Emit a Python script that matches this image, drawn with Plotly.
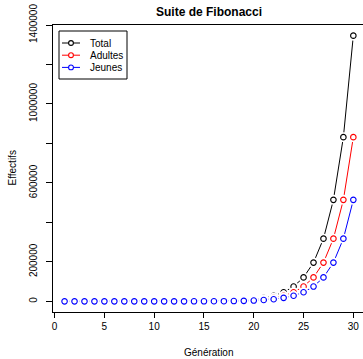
import plotly.graph_objects as go

generation = list(range(1, 31))
total = [1, 2, 3, 5, 8, 13, 21, 34, 55, 89, 144, 233, 377, 610, 987, 1597, 2584,
         4181, 6765, 10946, 17711, 28657, 46368, 75025, 121393, 196418, 317811,
         514229, 832040, 1346269]
adultes = [1, 1, 2, 3, 5, 8, 13, 21, 34, 55, 89, 144, 233, 377, 610, 987, 1597,
           2584, 4181, 6765, 10946, 17711, 28657, 46368, 75025, 121393, 196418,
           317811, 514229, 832040]
jeunes = [0, 1, 1, 2, 3, 5, 8, 13, 21, 34, 55, 89, 144, 233, 377, 610, 987,
          1597, 2584, 4181, 6765, 10946, 17711, 28657, 46368, 75025, 121393,
          196418, 317811, 514229]

series_names = ["Total", "Adultes", "Jeunes"]
series_values = [total, adultes, jeunes]
series_colors = ["#000000", "#FF0000", "#0000FF"]
xticks = [0, 5, 10, 15, 20, 25, 30]
yticks = [0, 200000, 400000, 600000, 800000, 1000000, 1200000, 1400000]
ytext = ["0", "200000", "", "600000", "", "1000000", "", "1400000"]

W, H = 363, 359
L, R, T, B = 53, 0, 25, 47
PW, PH = W - L - R, H - T - B


def px(x):
    return (x - L) / PW


def py(y):
    return 1 - (y - T) / PH


FONT = "Liberation Sans, Arial, Helvetica, sans-serif"
fig = go.Figure()
for name, vals, col in zip(series_names, series_values, series_colors):
    fig.add_trace(go.Scatter(x=generation, y=vals, mode="lines", name=name, showlegend=False,
                             line=dict(color=col, width=1)))
    fig.add_trace(go.Scatter(x=generation, y=vals, mode="markers", showlegend=False, hoverinfo="skip",
                             marker=dict(symbol="circle", size=10, color="white", line=dict(width=0))))
    fig.add_trace(go.Scatter(x=generation, y=vals, mode="markers", name=name, showlegend=False,
                             marker=dict(symbol="circle-open", size=5.5, color=col,
                                         line=dict(width=1.1, color=col))))

# manual legend (R style)
shapes = [dict(type="rect", xref="paper", yref="paper", x0=px(59), x1=px(127), y0=py(79), y1=py(31),
               line=dict(color="black", width=1), fillcolor="white", layer="above")]
annotations = []
for i, (name, col) in enumerate(zip(series_names, series_colors)):
    yc = 43 + 12.2 * i
    shapes.append(dict(type="line", xref="paper", yref="paper", x0=px(62), x1=px(80), y0=py(yc), y1=py(yc),
                       line=dict(color=col, width=1), layer="above"))
    shapes.append(dict(type="circle", xref="paper", yref="paper", x0=px(71 - 2.4), x1=px(71 + 2.4),
                       y0=py(yc + 2.4), y1=py(yc - 2.4), line=dict(color=col, width=1.1),
                       fillcolor="white", layer="above"))
    annotations.append(dict(text=name, xref="paper", yref="paper", x=px(88), y=py(yc), xanchor="left",
                            yanchor="middle", showarrow=False, font=dict(size=10, family=FONT)))

annotations.append(dict(text="Effectifs", xref="paper", yref="paper", x=px(12), y=py((T + H - B) / 2),
                        xanchor="center", yanchor="middle", textangle=-90, showarrow=False,
                        font=dict(size=10, family=FONT)))
annotations.append(dict(text="Génération", xref="paper", yref="paper", x=px((L + 365) / 2), y=py(352),
                        xanchor="center", yanchor="middle", showarrow=False,
                        font=dict(size=10, family=FONT)))
annotations.append(dict(text="<b>Suite de Fibonacci</b>", xref="paper", yref="paper", x=px((L + 365) / 2),
                        y=py(12), xanchor="center", yanchor="middle", showarrow=False,
                        font=dict(size=12, family=FONT)))

ymax = max(total)
fig.update_layout(
    width=W, height=H,
    margin=dict(l=L, r=R, t=T, b=B, autoexpand=False),
    paper_bgcolor="white", plot_bgcolor="white",
    font=dict(family=FONT, size=10, color="black"),
    showlegend=False,
    shapes=shapes, annotations=annotations,
    xaxis=dict(range=[-0.16, 30.97], tickvals=xticks, ticks="outside", ticklen=5,
               tickcolor="black", showline=True, linecolor="black", linewidth=1, mirror=True,
               showgrid=False, zeroline=False, tickfont=dict(size=10)),
    yaxis=dict(range=[-0.04 * ymax, 1.04 * ymax], tickvals=yticks, ticktext=ytext, tickangle=-90,
               ticks="outside", ticklen=6, tickcolor="black", showline=True, linecolor="black",
               linewidth=1, showgrid=False, zeroline=False, tickfont=dict(size=10),
               ticklabelstandoff=5),
)
fig.write_html("out.html", config={"displayModeBar": False, "staticPlot": True},
               post_script="document.body.style.margin='0';document.body.style.overflow='hidden';")
